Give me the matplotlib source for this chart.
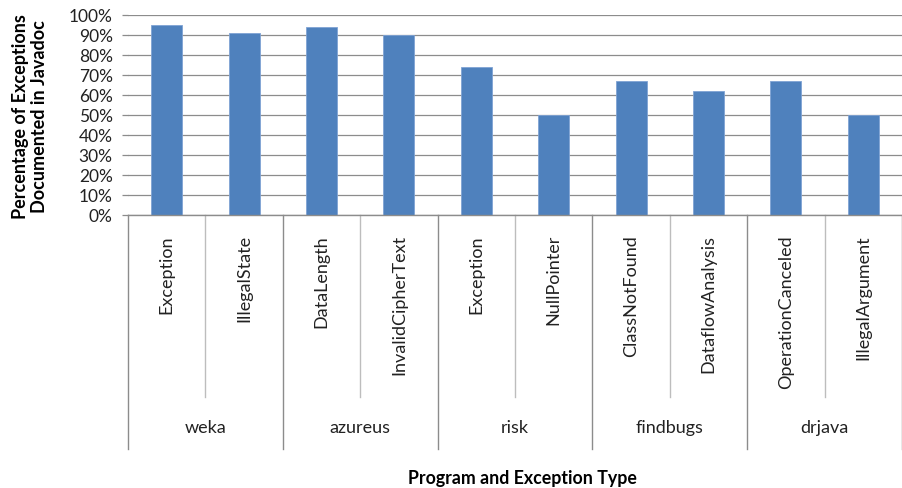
import matplotlib.pyplot as plt
from matplotlib.transforms import blended_transform_factory
from matplotlib.ticker import PercentFormatter

plt.rcParams['font.family'] = ['Lato', 'DejaVu Sans']

programs = ["weka", "azureus", "risk", "findbugs", "drjava"]
exceptions = ["Exception", "IllegalState", "DataLength", "InvalidCipherText",
              "Exception", "NullPointer", "ClassNotFound", "DataflowAnalysis",
              "OperationCanceled", "IllegalArgument"]
percent = [95, 91, 94, 90, 74, 50, 67, 62, 67, 50]

fig = plt.figure(figsize=(9.02, 4.89), dpi=100)
ax = fig.add_axes([128 / 902, (489 - 216) / 489, 1 - 128 / 902, 200 / 489])

x = list(range(len(percent)))
ax.bar(x, percent, width=0.4, color="#4F81BD", edgecolor="#7fa3d4", linewidth=0.6, zorder=3)

ax.set_xlim(-0.5, len(percent) - 0.5)
ax.set_ylim(0, 100)
ax.set_yticks(range(0, 101, 10))
ax.yaxis.set_major_formatter(PercentFormatter(decimals=0))
ax.set_xticks([])
ax.grid(axis="y", color="#8c8c8c", linewidth=0.9, zorder=0)
ax.tick_params(axis="y", length=4, width=0.9, color="#8c8c8c", pad=7, labelsize=12.5, labelcolor="#222222")
for s in ["left", "right", "top"]:
    ax.spines[s].set_visible(False)
ax.spines["bottom"].set_color("#8c8c8c")
ax.spines["bottom"].set_linewidth(1.0)
ax.spines["bottom"].set_zorder(4)

# multi-level category axis
tr = blended_transform_factory(ax.transData, ax.transAxes)
for i in range(len(percent) + 1):
    xs = i - 0.5
    depth = -1.17 if i % 2 == 0 else -0.91
    col = "#8c8c8c" if i % 2 == 0 else "#bdbdbd"
    ax.plot([xs, xs], [0, depth], transform=tr, color=col, linewidth=1.0, clip_on=False)

for i, name in enumerate(exceptions):
    ax.text(i, -0.095, name, transform=tr, rotation=90, ha="center", va="top", fontsize=13, color="#222222")

for g, name in enumerate(programs):
    ax.text(2 * g + 0.5, -1.06, name, transform=tr, ha="center", va="center", fontsize=13, color="#222222")

fig.text(30 / 902, 1 - 117 / 489, "Percentage of Exceptions\nDocumented in Javadoc", rotation=90,
         ha="center", va="center", multialignment="center", fontsize=13, fontweight="bold",
         linespacing=1.1)
fig.text(522 / 902, 1 - 479 / 489, "Program and Exception Type", ha="center", va="center",
         fontsize=12.8, fontweight="bold")

fig.savefig("out.png", dpi=100)
